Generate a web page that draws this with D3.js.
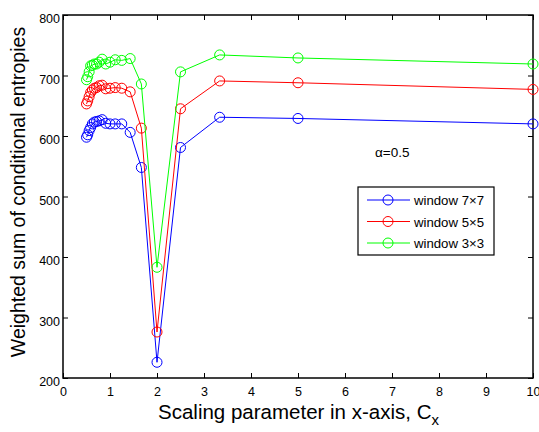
<!DOCTYPE html>
<html>
<head>
<meta charset="utf-8">
<script src="https://cdn.jsdelivr.net/npm/d3@7"></script>
<style>
  html, body { margin: 0; padding: 0; background: #fff; }
  svg { display: block; font-family: Arial, "Liberation Sans", sans-serif; }
</style>
</head>
<body>
<svg id="chart" width="539" height="432"></svg>
<script>
// Scaling parameter C_x = 10/n, n = 20 .. 1
const cx = [0.5, 0.526, 0.556, 0.588, 0.625, 0.667, 0.714, 0.769, 0.833, 0.909,
            1.0, 1.111, 1.25, 1.429, 1.667, 2.0, 2.5, 3.333, 5.0, 10.0];

const win7 = [598, 602, 609, 614, 620, 623, 624, 625, 627, 621,
              620, 620, 620, 606, 548, 226, 581, 631, 629, 620];
const win5 = [653, 658, 665, 672, 676, 679, 680, 683, 684, 678,
              679, 680, 679, 673, 613, 276, 645, 691, 688, 677];
const win3 = [693, 698, 706, 716, 717, 719, 719, 722, 727, 719,
              722, 726, 725, 728, 686, 383, 706, 734, 729, 719];

const seriesNames = ["window 7\u00d77", "window 5\u00d75", "window 3\u00d73"];
const seriesColors = ["#0000ff", "#ff0000", "#00ff00"];

const xTicks = [0, 1, 2, 3, 4, 5, 6, 7, 8, 9, 10];
const yTicks = [200, 300, 400, 500, 600, 700, 800];

const svg = d3.select("#chart");
const plotL = 63, plotR = 533, plotT = 15, plotB = 378;

const x = d3.scaleLinear().domain([0, 10]).range([plotL, plotR]);
const y = d3.scaleLinear().domain([200, 800]).range([plotB, plotT]);

const series = [win7, win5, win3].map((vals, i) => ({
  name: seriesNames[i],
  color: seriesColors[i],
  points: cx.map((c, j) => ({ x: c, y: vals[j] }))
}));

// Axes: ticks pointing inward on all four sides
const tickLen = 5;
const axB = svg.append("g").attr("transform", `translate(0,${plotB})`)
  .call(d3.axisBottom(x).tickValues(xTicks).tickSizeInner(-tickLen).tickSizeOuter(0).tickPadding(9));
const axT = svg.append("g").attr("transform", `translate(0,${plotT})`)
  .call(d3.axisTop(x).tickValues(xTicks).tickSizeInner(-tickLen).tickSizeOuter(0).tickFormat(""));
const axL = svg.append("g").attr("transform", `translate(${plotL},0)`)
  .call(d3.axisLeft(y).tickValues(yTicks).tickSizeInner(-tickLen).tickSizeOuter(0).tickPadding(3));
const axR = svg.append("g").attr("transform", `translate(${plotR},0)`)
  .call(d3.axisRight(y).tickValues(yTicks).tickSizeInner(-tickLen).tickSizeOuter(0).tickFormat(""));

[axB, axT, axL, axR].forEach(g => {
  g.select(".domain").remove();
  g.selectAll("line").attr("stroke", "#000").attr("stroke-width", 1);
  g.selectAll("text").attr("fill", "#000").style("font-size", "12.5px")
    .style("font-family", "Arial, 'Liberation Sans', sans-serif");
});
// y tick labels sit slightly below their ticks
axL.selectAll("text").attr("dy", "0.62em");

// Plot box
svg.append("rect")
  .attr("x", plotL).attr("y", plotT)
  .attr("width", plotR - plotL).attr("height", plotB - plotT)
  .attr("fill", "none").attr("stroke", "#000").attr("stroke-width", 1.5);

// Lines and circle markers
const line = d3.line().x(d => x(d.x)).y(d => y(d.y));
series.forEach(s => {
  svg.append("path")
    .datum(s.points)
    .attr("d", line)
    .attr("fill", "none")
    .attr("stroke", s.color)
    .attr("stroke-width", 1);
  svg.append("g").selectAll("circle")
    .data(s.points)
    .join("circle")
    .attr("cx", d => x(d.x))
    .attr("cy", d => y(d.y))
    .attr("r", 5)
    .attr("fill", "none")
    .attr("stroke", s.color)
    .attr("stroke-width", 1);
});

// Annotation
svg.append("text")
  .attr("x", 375).attr("y", 157)
  .style("font-size", "13.5px")
  .text("\u03b1=0.5");

// Legend
const lg = svg.append("g");
lg.append("rect")
  .attr("x", 358).attr("y", 187).attr("width", 136).attr("height", 68)
  .attr("fill", "#fff").attr("stroke", "#000").attr("stroke-width", 1.2);
series.forEach((s, i) => {
  const yy = 200 + i * 21.5;
  lg.append("line")
    .attr("x1", 367).attr("x2", 410).attr("y1", yy).attr("y2", yy)
    .attr("stroke", s.color).attr("stroke-width", 1);
  lg.append("circle")
    .attr("cx", 388).attr("cy", yy).attr("r", 5)
    .attr("fill", "none").attr("stroke", s.color).attr("stroke-width", 1);
  lg.append("text")
    .attr("x", 414).attr("y", yy + 5)
    .style("font-size", "13.2px")
    .text(s.name);
});

// Axis titles
const xt = svg.append("text")
  .attr("x", 158).attr("y", 419)
  .attr("text-anchor", "start")
  .style("font-size", "20.5px");
xt.append("tspan").text("Scaling parameter in x-axis, C");
xt.append("tspan").attr("dy", 6).style("font-size", "15px").text("x");

svg.append("text")
  .attr("transform", `translate(25,192) rotate(-90)`)
  .attr("text-anchor", "middle")
  .style("font-size", "19.5px")
  .text("Weighted sum of conditional entropies");
</script>
</body>
</html>
